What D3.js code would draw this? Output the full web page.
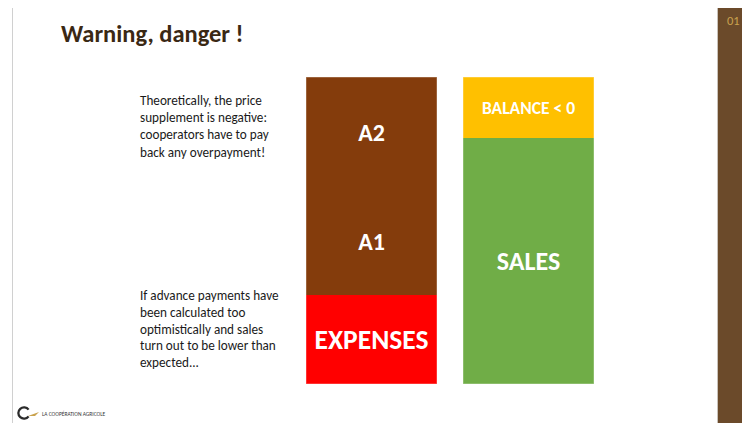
<!DOCTYPE html>
<html><head><meta charset="utf-8">
<script src="https://cdn.jsdelivr.net/npm/d3@7"></script>
<style>
html,body{margin:0;padding:0;background:#fff;}
svg{display:block;}
</style></head>
<body>
<svg id="chart" width="742" height="423"></svg>
<script>
const columns = ["Costs", "Revenue"];
const costLabels = ["EXPENSES", "A1", "A2"];
const costValues = [29, 34.5, 36.5];
const revenueLabels = ["SALES", "BALANCE < 0"];
const revenueValues = [80, 20];
const costColors = ["#FF0000", "#843C0C", "#843C0C"];
const revenueColors = ["#70AD47", "#FFC000"];
const noteTop = ["Theoretically, the price", "supplement is negative:", "cooperators have to pay", "back any overpayment!"];
const noteBottom = ["If advance payments have", "been calculated too", "optimistically and sales", "turn out to be lower than", "expected..."];

const svg = d3.select("#chart");
const font = "Carlito, Lato, 'Open Sans', sans-serif";

// slide frame
svg.append("line").attr("x1", 12.5).attr("x2", 12.5).attr("y1", 8).attr("y2", 423)
  .attr("stroke", "#d0d0d0").attr("stroke-width", 1);
svg.append("rect").attr("x", 718).attr("y", 8).attr("width", 24).attr("height", 415).attr("fill", "#6B4A2A");
svg.append("line").attr("x1", 717.5).attr("x2", 717.5).attr("y1", 8).attr("y2", 423)
  .attr("stroke", "#c9c2ba").attr("stroke-width", 1);
svg.append("text").attr("x", 727).attr("y", 25).text("01")
  .attr("font-family", font).attr("font-size", 12.5).attr("fill", "#C9A24E");

// title
svg.append("text").attr("x", 61).attr("y", 42).text("Warning, danger !")
  .attr("font-family", font).attr("font-weight", "bold").attr("font-size", 24.5).attr("fill", "#3A2814");

const x = d3.scaleBand().domain(columns).range([306, 594]).paddingInner(26 / 157);
const y = d3.scaleLinear().domain([0, 100]).range([384, 77]);

function stack(labels, values, colors) {
  let acc = 0;
  return values.map((v, i) => { const d = {label: labels[i], y0: acc, y1: acc + v, color: colors[i]}; acc += v; return d; });
}
const groups = [
  {col: columns[0], segs: stack(costLabels, costValues, costColors)},
  {col: columns[1], segs: stack(revenueLabels, revenueValues, revenueColors)}
];

const labelSize = {"EXPENSES": 27.5, "A1": 24, "A2": 24, "SALES": 26, "BALANCE < 0": 17.5};

groups.forEach(g => {
  const gg = svg.append("g");
  gg.selectAll("rect").data(g.segs).join("rect")
    .attr("x", x(g.col)).attr("width", x.bandwidth())
    .attr("y", d => Math.round(y(d.y1))).attr("height", d => Math.round(y(d.y0)) - Math.round(y(d.y1)))
    .attr("fill", d => d.color).attr("shape-rendering", "crispEdges");
  gg.append("rect").attr("x", x(g.col)).attr("width", x.bandwidth())
    .attr("y", y(100)).attr("height", y(0) - y(100))
    .attr("fill", "none").attr("stroke", "#ffffff").attr("stroke-opacity", 0.4).attr("stroke-width", 1);
  gg.selectAll("text").data(g.segs).join("text")
    .attr("x", x(g.col) + x.bandwidth() / 2)
    .attr("y", d => (y(d.y0) + y(d.y1)) / 2)
    .attr("dy", "0.35em")
    .attr("text-anchor", "middle")
    .attr("font-family", font).attr("font-weight", "bold")
    .attr("font-size", d => labelSize[d.label])
    .attr("fill", "#ffffff")
    .text(d => d.label);
});

// notes
function note(lines, top, step) {
  svg.append("g").selectAll("text").data(lines).join("text")
    .attr("x", 140).attr("y", (d, i) => top + i * step)
    .attr("font-family", font).attr("font-size", 13.2).attr("fill", "#1a1a1a")
    .text(d => d);
}
note(noteTop, 105, 17.2);
note(noteBottom, 300, 16.8);

// logo
const logo = svg.append("g");
logo.append("path")
  .attr("d", d3.arc()({innerRadius: 4.5, outerRadius: 6.8, startAngle: Math.PI * 0.7, endAngle: Math.PI * 2.3}))
  .attr("transform", "translate(24,413)").attr("fill", "#2b2b2b");
logo.append("path").attr("d", "M28,416 L39,412 L35,416 Z").attr("fill", "#C9A24E");
logo.append("text").attr("x", 42).attr("y", 416).text("LA COOPÉRATION AGRICOLE")
  .attr("font-family", font).attr("font-size", 5.5).attr("fill", "#333");
</script>
</body></html>
